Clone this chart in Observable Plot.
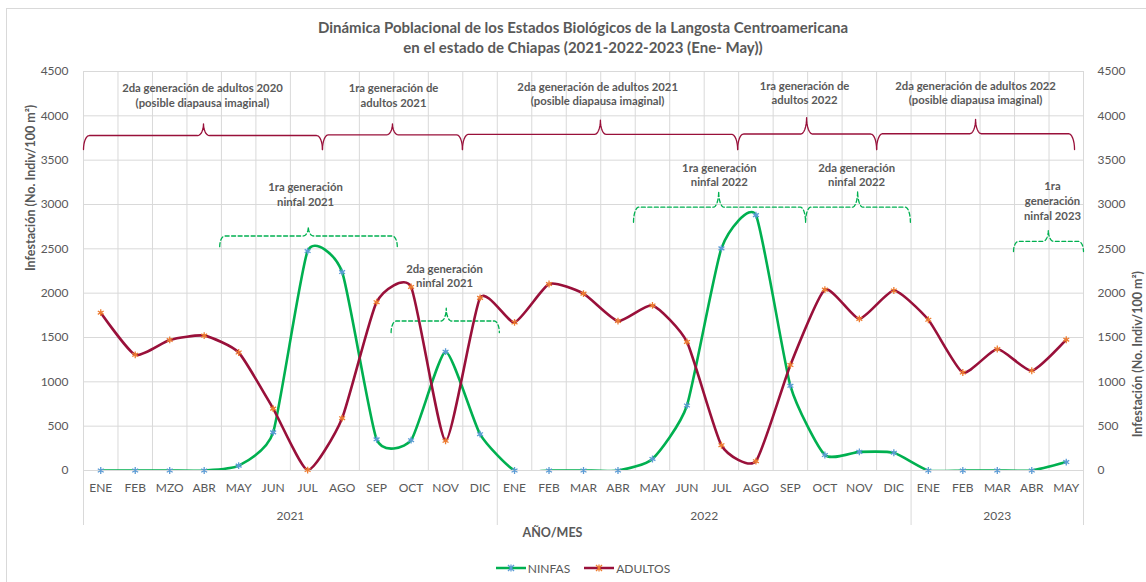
<!DOCTYPE html>
<html><head><meta charset="utf-8">
<script src="https://cdn.jsdelivr.net/npm/d3@7"></script>
<script src="https://cdn.jsdelivr.net/npm/@observablehq/plot@0.6"></script>
<style>
body{margin:0;background:#fff;font-family:Lato,"Open Sans",sans-serif;}
#wrap{position:relative;width:1146px;height:582px;overflow:hidden;background:#fff;}
#border{position:absolute;left:6px;top:8px;width:1200px;height:620px;border:1px solid #d9d9d9;}
#title{position:absolute;top:17px;left:0;width:1166px;text-align:center;font-weight:bold;font-size:15px;line-height:20px;color:#595959;}
#chart{position:absolute;top:58px;left:0;}
#legend{position:absolute;top:558px;left:0;width:1166px;height:20px;display:flex;justify-content:center;align-items:center;gap:14px;font-size:12px;color:#595959;}
#legend span{display:flex;align-items:center;gap:2px;}
</style></head>
<body><div id="wrap"><div id="border"></div>
<div id="title">Dinámica Poblacional de los Estados Biológicos de la Langosta Centroamericana<br>en el estado de Chiapas (2021-2022-2023 (Ene- May))</div>
<div id="chart"></div>
<div id="legend">
<span><svg width="30" height="10"><line x1="0" y1="5" x2="30" y2="5" stroke="#00B050" stroke-width="2.5"/><path d="M12 2L18 8M18 2L12 8M15 1.5V8.5" stroke="#5B9BD5" stroke-width="1.3"/></svg>NINFAS</span>
<span><svg width="30" height="10"><line x1="0" y1="5" x2="30" y2="5" stroke="#99103A" stroke-width="2.5"/><path d="M12 2L18 8M18 2L12 8M15 1.5V8.5" stroke="#ED7D31" stroke-width="1.3"/></svg>ADULTOS</span>
</div>
</div>
<script>
const months = ["ENE","FEB","MZO","ABR","MAY","JUN","JUL","AGO","SEP","OCT","NOV","DIC",
  "ENE","FEB","MAR","ABR","MAY","JUN","JUL","AGO","SEP","OCT","NOV","DIC",
  "ENE","FEB","MAR","ABR","MAY"];
const years = ["2021","2022","2023"];
const yearCenters = [5.5, 17.5, 26];
const yearSeparators = [-0.5, 11.5, 23.5, 28.5];
const ninfas = [0,0,0,0,55,430,2475,2238,352,342,1340,410,
  0,0,0,0,130,733,2505,2880,955,175,210,200,
  0,0,0,0,95];
const adultos = [1780,1305,1473,1521,1331,698,5,590,1898,2070,335,1947,
  1670,2103,1995,1685,1862,1450,285,105,1190,2040,1710,2030,
  1700,1105,1370,1125,1475];
const yTicks = [0,500,1000,1500,2000,2500,3000,3500,4000,4500];
const yLabel = "Infestación (No. Indiv/100 m²)";

// annotation braces: [start, end, tip, level, low, high] in month index / value units
const adultBraces = [
  [-0.5, 6.43, 2.98, 3778, 3620, 3910],
  [6.43, 10.49, 8.46, 3786, 3620, 3910],
  [10.49, 18.47, 14.49, 3790, 3620, 3950],
  [18.47, 22.5, 20.47, 3795, 3620, 3980],
  [22.5, 28.24, 25.37, 3798, 3620, 3960]
];
const nymphBraces = [
  [3.45, 8.6, 6.02, 2645, 2525, 2750],
  [8.42, 11.56, 10.02, 1686, 1555, 1831],
  [15.45, 20.44, 17.92, 2970, 2800, 3150],
  [20.44, 23.48, 21.95, 2970, 2800, 3150],
  [26.47, 28.5, 27.48, 2585, 2470, 2710]
];
const adultNotes = [
  ["2da generación de adultos 2020\n(posible diapausa imaginal)", 2.95, 4236],
  ["1ra generación de\nadultos 2021", 8.49, 4236],
  ["2da generación de adultos 2021\n(posible diapausa imaginal)", 14.41, 4253],
  ["1ra generación de\nadultos 2022", 20.41, 4264],
  ["2da generación de adultos 2022\n(posible diapausa imaginal)", 25.37, 4264]
];
const nymphNotes = [
  ["1ra generación\nninfal 2021", 5.94, 3117],
  ["2da generación\nninfal 2021", 9.97, 2200],
  ["1ra generación\nninfal 2022", 17.94, 3341],
  ["2da generación\nninfal 2022", 21.92, 3341],
  ["1ra\ngeneración\nninfal 2023", 27.6, 3048]
];

function bracePoints(braces, rx) {
  const pts = [];
  const N = 8;
  braces.forEach(([x0, x1, xt, lev, low, high], id) => {
    for (let k = 0; k <= N; k++) { const t = k / N * Math.PI / 2;
      pts.push({id, x: x0 + rx * (1 - Math.cos(t)), y: low + (lev - low) * Math.sin(t)}); }
    for (let k = 0; k <= N; k++) { const t = k / N * Math.PI / 2;
      pts.push({id, x: xt - rx + rx * Math.sin(t), y: lev + (high - lev) * (1 - Math.cos(t))}); }
    for (let k = N; k >= 0; k--) { const t = k / N * Math.PI / 2;
      pts.push({id, x: xt + rx - rx * Math.sin(t), y: lev + (high - lev) * (1 - Math.cos(t))}); }
    for (let k = N; k >= 0; k--) { const t = k / N * Math.PI / 2;
      pts.push({id, x: x1 - rx * (1 - Math.cos(t)), y: low + (lev - low) * Math.sin(t)}); }
  });
  return pts;
}

const series = [
  ...ninfas.map((v, i) => ({s: "NINFAS", i, v})),
  ...adultos.map((v, i) => ({s: "ADULTOS", i, v}))
];
const grey = "#595959";
const lineColor = {NINFAS: "#00B050", ADULTOS: "#99103A"};
const markColor = {NINFAS: "#5B9BD5", ADULTOS: "#ED7D31"};
const boundaries = d3.range(30).map(k => k - 0.5);

const chart = Plot.plot({
  width: 1146, height: 500,
  marginLeft: 83, marginRight: 63, marginTop: 13, marginBottom: 88,
  style: {fontFamily: "Lato, 'Open Sans', sans-serif", background: "transparent", overflow: "visible"},
  x: {domain: [-0.5, 28.5], axis: null},
  y: {domain: [0, 4500], axis: null},
  marks: [
    Plot.ruleY(yTicks, {stroke: "#d9d9d9", strokeWidth: 1}),
    Plot.ruleX(boundaries, {stroke: "#d9d9d9", strokeWidth: 1}),
    Plot.ruleX(yearSeparators, {stroke: "#d9d9d9", strokeWidth: 1, insetTop: 399, insetBottom: -55}),
    Plot.text(yTicks, {y: d => d, frameAnchor: "left", dx: -15, textAnchor: "end", text: d => String(d), fill: grey, fontSize: 12}),
    Plot.text(yTicks, {y: d => d, frameAnchor: "right", dx: 14, textAnchor: "start", text: d => String(d), fill: grey, fontSize: 12}),
    Plot.text([yLabel], {frameAnchor: "left", dx: -53, rotate: -90, text: d => d, fill: grey, fontSize: 12.5, fontWeight: "bold"}),
    Plot.text([yLabel], {frameAnchor: "right", dx: 54, rotate: -90, text: d => d, fill: grey, fontSize: 12.5, fontWeight: "bold"}),
    Plot.text(months, {x: (d, i) => i, frameAnchor: "bottom", dy: 21, text: d => d, fill: grey, fontSize: 12}),
    Plot.text(years, {x: (d, i) => yearCenters[i], frameAnchor: "bottom", dy: 49, text: d => d, fill: grey, fontSize: 12}),
    Plot.text(["AÑO/MES"], {frameAnchor: "bottom", dx: -31, dy: 66, text: d => d, fill: grey, fontSize: 12.5, fontWeight: "bold"}),
    Plot.line(bracePoints(adultBraces, 0.17), {x: "x", y: "y", z: "id", stroke: "#99103A", strokeWidth: 1.3}),
    Plot.line(bracePoints(nymphBraces, 0.15), {x: "x", y: "y", z: "id", stroke: "#00B050", strokeWidth: 1.3, strokeDasharray: "4,2.5"}),
    Plot.text(adultNotes, {x: d => d[1], y: d => d[2], text: d => d[0], fill: grey, fontSize: 11.3, fontWeight: "bold", lineHeight: 1.3}),
    Plot.text(nymphNotes, {x: d => d[1], y: d => d[2], text: d => d[0], fill: grey, fontSize: 11.3, fontWeight: "bold", lineHeight: 1.3}),
    Plot.line(series, {x: "i", y: "v", z: "s", stroke: d => lineColor[d.s], strokeWidth: 2.6, curve: "cardinal", tension: 0.45, clip: true}),
    Plot.dot(series, {x: "i", y: "v", symbol: "asterisk", r: 3.2, stroke: d => markColor[d.s], strokeWidth: 1.3})
  ]
});
document.getElementById("chart").appendChild(chart);
</script>
</body></html>
